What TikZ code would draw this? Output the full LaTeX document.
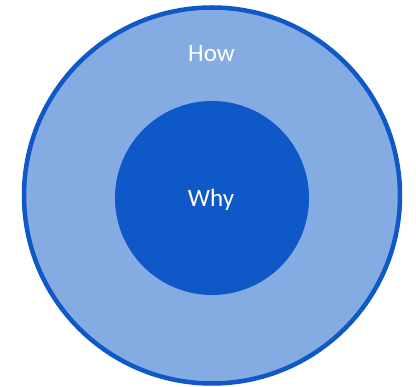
\documentclass[tikz,border=0pt]{standalone}
\usepackage{fontspec}
\setmainfont{Carlito}
\definecolor{lightblue}{RGB}{133,172,226}
\definecolor{darkblue}{RGB}{14,88,200}
\begin{document}
\begin{tikzpicture}[x=1pt,y=1pt,
  outerc/.style={circle,draw=darkblue,fill=lightblue,line width=4.5pt,minimum size=376pt,inner sep=0pt},
  innerc/.style={circle,fill=darkblue,minimum size=194pt,inner sep=0pt},
  lbl/.style={text=white,font=\fontsize{25}{30}\selectfont,anchor=base,inner sep=0pt}]
\useasboundingbox (0,0) rectangle (416,387);
\node[outerc] (outer) at (212,191.5) {};
\node[innerc] (inner) at (212,189) {};
\node[lbl] (how) at (211.5,325) {How};
\node[lbl] (why) at (211,180) {Why};
\end{tikzpicture}
\end{document}
